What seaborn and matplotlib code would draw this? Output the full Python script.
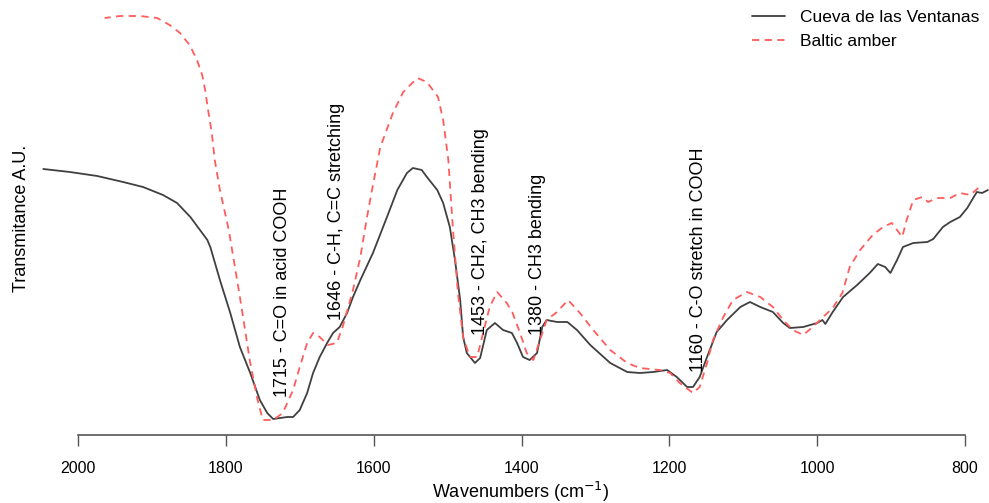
import numpy as np
import pandas as pd
import matplotlib
matplotlib.use("Agg")
import matplotlib.pyplot as plt
import seaborn as sns

# ---- data (wavenumber cm-1, transmittance in arbitrary units) ----
cueva_wn = [2047, 2011, 1974, 1939, 1912, 1885, 1866, 1848, 1835, 1825, 1821, 1808,
            1794, 1781, 1767, 1754, 1744, 1736, 1717, 1709, 1700, 1690, 1682, 1673,
            1663, 1655, 1646, 1636, 1628, 1618, 1601, 1582, 1568, 1555, 1547, 1535,
            1528, 1514, 1506, 1497, 1490, 1483, 1479, 1474, 1463, 1456, 1447, 1436,
            1425, 1413, 1406, 1398, 1389, 1379, 1372, 1366, 1352, 1338, 1325, 1307,
            1280, 1257, 1240, 1222, 1203, 1190, 1176, 1168, 1159, 1149, 1136, 1122,
            1104, 1091, 1077, 1060, 1046, 1037, 1019, 1000, 993, 989, 979, 965,
            946, 929, 918, 908, 901, 892, 884, 870, 851, 843, 830, 820,
            807, 797, 789, 784, 777, 769]
cueva_t = [271, 268, 264, 258, 253, 245, 237, 223, 210, 200, 193, 160,
           127, 93, 67, 40, 27, 21, 23, 23, 30, 47, 67, 83,
           97, 107, 113, 127, 143, 160, 187, 223, 250, 267, 272, 270,
           263, 250, 237, 213, 180, 140, 103, 87, 77, 82, 110, 117,
           110, 107, 97, 83, 80, 87, 113, 120, 118, 118, 110, 95,
           77, 68, 67, 68, 70, 63, 53, 53, 63, 83, 108, 120,
           133, 138, 133, 128, 117, 112, 113, 117, 120, 116, 128, 143,
           155, 167, 176, 173, 167, 180, 193, 197, 198, 201, 213, 218,
           223, 232, 242, 248, 247, 250]

baltic_wn = [1964, 1943, 1916, 1893, 1876, 1862, 1849, 1839, 1832, 1828, 1824, 1819,
             1815, 1808, 1796, 1781, 1767, 1758, 1750, 1736, 1723, 1709, 1700, 1690,
             1682, 1673, 1662, 1650, 1642, 1628, 1618, 1609, 1601, 1591, 1574, 1560,
             1541, 1528, 1513, 1506, 1499, 1493, 1486, 1479, 1470, 1460, 1452, 1443,
             1433, 1420, 1412, 1402, 1393, 1384, 1375, 1366, 1352, 1337, 1321, 1303,
             1280, 1257, 1240, 1213, 1199, 1186, 1168, 1159, 1149, 1141, 1127, 1114,
             1095, 1077, 1060, 1046, 1033, 1019, 1006, 992, 979, 966, 956, 942,
             925, 911, 899, 892, 885, 879, 870, 858, 850, 838, 820, 807,
             793, 782]
baltic_t = [422, 424, 424, 422, 415, 407, 395, 380, 365, 350, 330, 307,
            280, 250, 210, 143, 77, 43, 20, 20, 27, 50, 73, 97,
            107, 103, 95, 97, 113, 150, 183, 223, 255, 293, 327, 348,
            362, 358, 343, 320, 280, 213, 147, 103, 83, 83, 107, 133,
            148, 137, 127, 107, 87, 80, 100, 120, 128, 140, 127, 110,
            90, 77, 72, 70, 67, 57, 47, 53, 77, 100, 123, 140,
            148, 143, 133, 120, 110, 105, 113, 123, 132, 147, 173, 190,
            205, 213, 217, 210, 203, 220, 240, 243, 238, 242, 242, 247,
            245, 252]

series_names = ["Cueva de las Ventanas", "Baltic amber"]

annot_text = ["1715 - C=O in acid COOH", "1646 - C-H, C=C stretching",
              "1453 - CH2, CH3 bending", "1380 - CH3 bending",
              "1160 - C-O stretch in COOH"]
annot_x = [1723, 1650, 1455, 1378, 1161]
annot_y = [43, 120, 105, 105, 68]

xticks = [2000, 1800, 1600, 1400, 1200, 1000, 800]

# ---- build table ----
df = pd.concat([
    pd.DataFrame({"wn": cueva_wn, "t": cueva_t, "sample": series_names[0]}),
    pd.DataFrame({"wn": baltic_wn, "t": baltic_t, "sample": series_names[1]}),
])

sns.set_theme(style="white")
plt.rcParams["font.family"] = ["Liberation Sans", "DejaVu Sans"]
plt.rcParams["text.color"] = "black"

W, H = 989, 503
fig = plt.figure(figsize=(W / 100, H / 100), dpi=100)
ax = fig.add_axes([40 / W, (H - 435) / H, 949 / W, 435 / H])

palette = {series_names[0]: "#404040", series_names[1]: "#ff5c5c"}
dashes = {series_names[0]: "", series_names[1]: (4, 3)}
sns.lineplot(data=df, x="wn", y="t", hue="sample", style="sample",
             palette=palette, dashes=dashes, estimator=None, sort=True,
             linewidth=1.3, ax=ax, legend=True)

ax.set_xlim(2051.4, 767.6)
ax.set_ylim(5, 440)

for s in ["top", "right", "left"]:
    ax.spines[s].set_visible(False)
ax.spines["bottom"].set_bounds(800, 2000)
ax.spines["bottom"].set_color("#555555")
ax.spines["bottom"].set_linewidth(1.2)
ax.set_xticks(xticks)
ax.set_xticklabels([str(v) for v in xticks])
ax.tick_params(axis="x", direction="out", length=8, width=1.0, color="#555555",
               pad=11, labelsize=11.5, labelcolor="black", bottom=True)
ax.set_yticks([])
ax.set_xlabel("")
ax.set_ylabel("")

for txt, x, y in zip(annot_text, annot_x, annot_y):
    ax.text(x, y, txt, rotation=90, ha="center", va="bottom", fontsize=13,
            color="black")

fig.text(521 / W, 1 - 492 / H, "Wavenumbers (cm$^{-1}$)", ha="center",
         va="center", fontsize=13, color="black")
fig.text(22 / W, 1 - 218 / H, "Transmitance A.U.", rotation=90, ha="center",
         va="center", fontsize=13, color="black")

leg = ax.legend(loc="upper left", bbox_to_anchor=(752 / W, 1 - 10 / H),
                bbox_transform=fig.transFigure, frameon=False, fontsize=12.5,
                handlelength=1.9, handletextpad=0.85, labelspacing=0.5,
                borderpad=0, borderaxespad=0)
for t in leg.get_texts():
    t.set_color("black")

fig.savefig("out.png", dpi=100)
